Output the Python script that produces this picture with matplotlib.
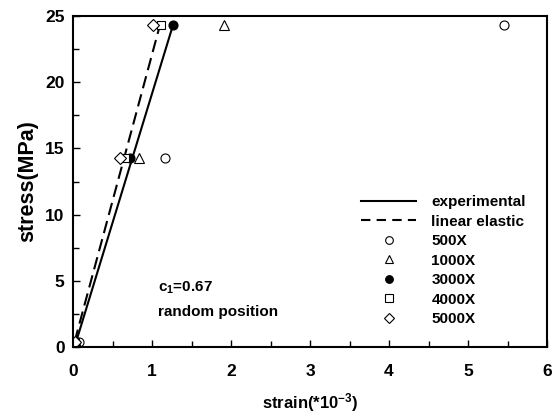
import matplotlib
matplotlib.use("Agg")
import matplotlib.pyplot as plt

plt.rcParams["font.family"] = ["Liberation Sans", "DejaVu Sans"]
plt.rcParams["font.weight"] = "bold"
plt.rcParams["mathtext.fontset"] = "custom"
plt.rcParams["mathtext.rm"] = "Liberation Sans:bold"
plt.rcParams["mathtext.bf"] = "Liberation Sans:bold"
plt.rcParams["mathtext.default"] = "rm"

# measured series (strain in 1e-3, stress in MPa)
stress = [0.4, 14.3, 24.3]
strain_500 = [0.08, 1.16, 5.46]
strain_1000 = [0.04, 0.84, 1.91]
strain_3000 = [0.03, 0.72, 1.26]
strain_4000 = [0.02, 0.66, 1.12]
strain_5000 = [0.02, 0.60, 1.01]

# fitted lines
exp_strain = [0.04, 1.26]
exp_stress = [0.4, 24.2]
lin_strain = [0.02, 1.10]
lin_stress = [0.4, 24.3]

xticks = [0, 1, 2, 3, 4, 5, 6]
yticks = [0, 5, 10, 15, 20, 25]

fig = plt.figure(figsize=(5.56, 4.15), dpi=100)
ax = fig.add_axes([73 / 556, 1 - 347 / 415, 474 / 556, 331 / 415])

ax.plot(exp_strain, exp_stress, "k-", lw=1.5, label="experimental")
ax.plot(lin_strain, lin_stress, "k--", lw=1.5, dashes=(6, 3), label="linear elastic")
ms = 6.5
kw = dict(mec="k", mew=0.8, ls="none")
ax.plot(strain_500, stress, "o", mfc="white", ms=ms, label="500X", **kw)
ax.plot(strain_1000, stress, "^", mfc="white", ms=ms, label="1000X", **kw)
ax.plot(strain_3000, stress, "o", mfc="k", ms=ms, label="3000X", **kw)
ax.plot(strain_4000, stress, "s", mfc="white", ms=ms - 0.5, label="4000X", **kw)
ax.plot(strain_5000, stress, "D", mfc="white", ms=ms - 0.8, label="5000X", **kw)

ax.set_xlim(0, 6)
ax.set_ylim(0, 25)
ax.set_xticks(xticks)
ax.set_xticklabels([str(v) for v in xticks], fontsize=12.5, fontweight="bold")
ax.set_yticks(yticks)
ax.set_yticklabels([str(v) for v in yticks], fontsize=12.5, fontweight="bold")
ax.set_xticks([v + 0.5 for v in xticks[:-1]], minor=True)
ax.set_yticks([v + 2.5 for v in yticks[:-1]], minor=True)
ax.tick_params(which="both", direction="in", width=1)
ax.tick_params(which="major", length=5)
ax.tick_params(which="minor", length=4)
ax.tick_params(axis="x", pad=12)
ax.tick_params(axis="y", pad=6)
for s in ax.spines.values():
    s.set_linewidth(1.5)

ax.set_xlabel("strain(*10$^{-3}$)", fontsize=12, fontweight="bold", labelpad=9)
ax.set_ylabel("stress(MPa)", fontsize=15.5, fontweight="bold", labelpad=5)

ax.text(1.08, 4.46, "c$_{1}$=0.67", fontsize=11, fontweight="bold", va="center")
ax.text(1.08, 2.64, "random position", fontsize=11, fontweight="bold", va="center")

leg = ax.legend(loc="upper left", bbox_to_anchor=((361 - 73) / 474, (347 - 195) / 331),
                borderaxespad=0, borderpad=0, frameon=False,
                fontsize=11, handlelength=3.6, handletextpad=1.0,
                labelspacing=0.36, markerscale=0.85)
for t in leg.get_texts():
    t.set_fontweight("bold")
for h in leg.get_lines()[1:2]:
    h.set_dashes((4.5, 3))

fig.savefig("out.png", dpi=100)
